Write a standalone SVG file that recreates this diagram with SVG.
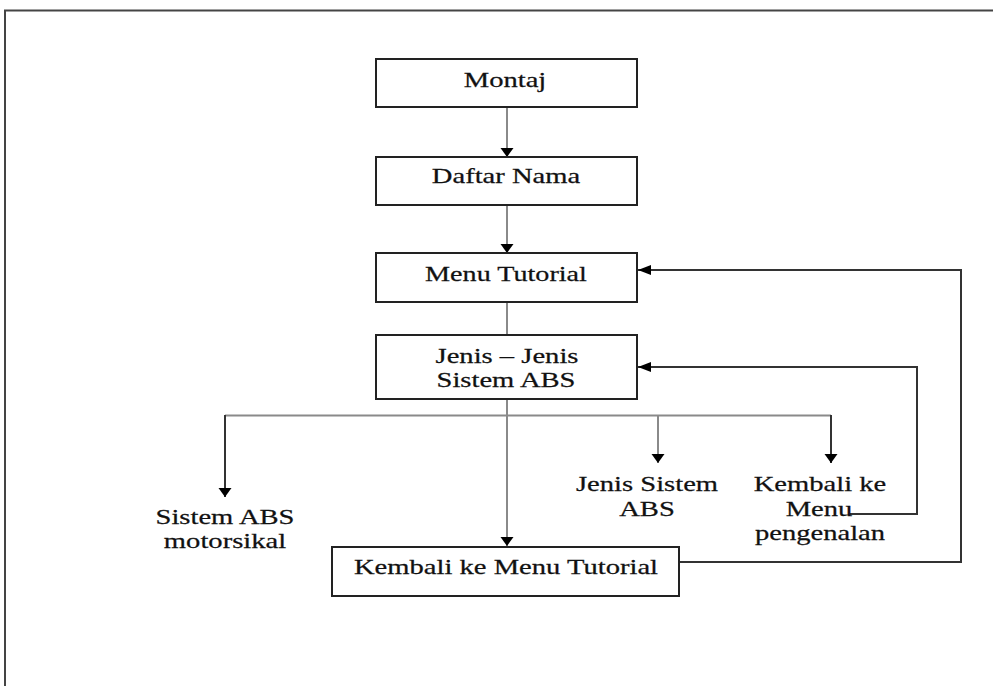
<svg xmlns="http://www.w3.org/2000/svg" width="993" height="686" viewBox="0 0 993 686">
<style>
.box{fill:#fff;stroke:#222;stroke-width:2}
.t{font-family:"Liberation Serif","Times New Roman",serif;font-size:22px;fill:#111;text-anchor:middle;stroke:#111;stroke-width:0.25}
.ln{fill:none;stroke:#333;stroke-width:2}
.lg{fill:none;stroke:#8a8a8a;stroke-width:2}
</style>
<defs>
<marker id="av" markerUnits="userSpaceOnUse" markerWidth="10" markerHeight="14" refX="9" refY="6.5" orient="auto">
<path d="M0,0 L9,6.5 L0,13 Z" fill="#000"/>
</marker>
<marker id="ah" markerUnits="userSpaceOnUse" markerWidth="14" markerHeight="11" refX="13" refY="5" orient="auto">
<path d="M0,0 L13,5 L0,10 Z" fill="#000"/>
</marker>
</defs>
<rect width="993" height="686" fill="#fff"/>
<rect x="5" y="10.5" width="1000" height="700" fill="none" stroke="#444" stroke-width="2"/>
<g id="connectors">
<line class="lg" x1="507" y1="107" x2="507" y2="157" marker-end="url(#av)"/>
<line class="lg" x1="507" y1="205" x2="507" y2="253" marker-end="url(#av)"/>
<line class="lg" x1="507" y1="302" x2="507" y2="335"/>
<line class="lg" x1="507" y1="399" x2="507" y2="546" marker-end="url(#av)"/>
<polyline class="lg" points="225,415.5 831,415.5"/>
<line class="ln" x1="225" y1="415" x2="225" y2="497" marker-end="url(#av)"/>
<line class="lg" x1="658" y1="415" x2="658" y2="463" marker-end="url(#av)"/>
<line class="ln" x1="831" y1="415" x2="831" y2="463" marker-end="url(#av)"/>
<polyline class="ln" points="850,514 917,514 917,367 638,367" marker-end="url(#ah)"/>
<polyline class="ln" points="680,562 961,562 961,270 638,270" marker-end="url(#ah)"/>
</g>
<g id="montaj">
<rect class="box" x="376" y="59" width="261" height="48"/>
<text class="t" transform="translate(505,87) scale(1.3,1)">Montaj</text>
</g>
<g id="daftar-nama">
<rect class="box" x="376" y="157" width="261" height="48"/>
<text class="t" transform="translate(506,183) scale(1.3,1)">Daftar Nama</text>
</g>
<g id="menu-tutorial">
<rect class="box" x="376" y="253" width="261" height="49"/>
<text class="t" transform="translate(506,281) scale(1.28,1)">Menu Tutorial</text>
</g>
<g id="jenis-jenis">
<rect class="box" x="376" y="335" width="261" height="64"/>
<text class="t" transform="translate(507,363) scale(1.3,1)">Jenis – Jenis</text>
<text class="t" transform="translate(506,387) scale(1.3,1)">Sistem ABS</text>
</g>
<g id="sistem-abs-motorsikal">
<text class="t" transform="translate(225,524) scale(1.3,1)">Sistem ABS</text>
<text class="t" transform="translate(225,548) scale(1.3,1)">motorsikal</text>
</g>
<g id="jenis-sistem-abs">
<text class="t" transform="translate(647,491) scale(1.3,1)">Jenis Sistem</text>
<text class="t" transform="translate(647,516) scale(1.3,1)">ABS</text>
</g>
<g id="kembali-menu-pengenalan">
<text class="t" transform="translate(820,491) scale(1.3,1)">Kembali ke</text>
<text class="t" transform="translate(819,516) scale(1.3,1)">Menu</text>
<text class="t" transform="translate(820,540) scale(1.3,1)">pengenalan</text>
</g>
<g id="kembali-menu-tutorial">
<rect class="box" x="332" y="547" width="347" height="49"/>
<text class="t" transform="translate(506,574) scale(1.3,1)">Kembali ke Menu Tutorial</text>
</g>
</svg>
